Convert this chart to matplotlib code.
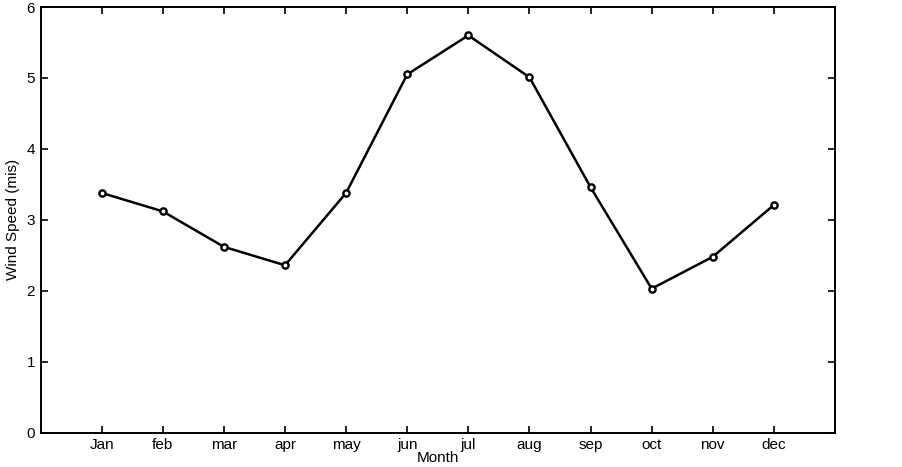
import matplotlib
matplotlib.use("Agg")
import matplotlib.pyplot as plt

months = ["Jan", "feb", "mar", "apr", "may", "jun", "jul", "aug", "sep", "oct", "nov", "dec"]
wind_speed = [3.38, 3.12, 2.62, 2.36, 3.38, 5.05, 5.60, 5.01, 3.46, 2.03, 2.48, 3.21]
y_ticks = [0, 1, 2, 3, 4, 5, 6]

plt.rcParams['font.family'] = ['Liberation Sans', 'DejaVu Sans']

fig = plt.figure(figsize=(9.03, 4.67), dpi=100)
ax = fig.add_axes([0.0449, 0.0734, 0.8798, 0.9116])
x = list(range(1, len(months) + 1))
ax.plot(x, wind_speed, color='black', linewidth=1.8, marker='o', markersize=4.5,
        markerfacecolor='white', markeredgecolor='black', markeredgewidth=1.7)
ax.set_xlim(0, 13)
ax.set_ylim(0, 6)
ax.set_xticks(x)
ax.set_xticklabels(months)
ax.set_yticks(y_ticks)
ax.tick_params(direction='in', top=True, right=True, length=5, width=1.2,
               labelsize=11, pad=4, labeltop=False, labelright=False)
for s in ax.spines.values():
    s.set_linewidth(1.4)
ax.set_xlabel("Month", fontsize=11, labelpad=-1)
ax.set_ylabel("Wind Speed (mis)", fontsize=11, labelpad=5)
fig.savefig("out.png", dpi=100, facecolor='white')
